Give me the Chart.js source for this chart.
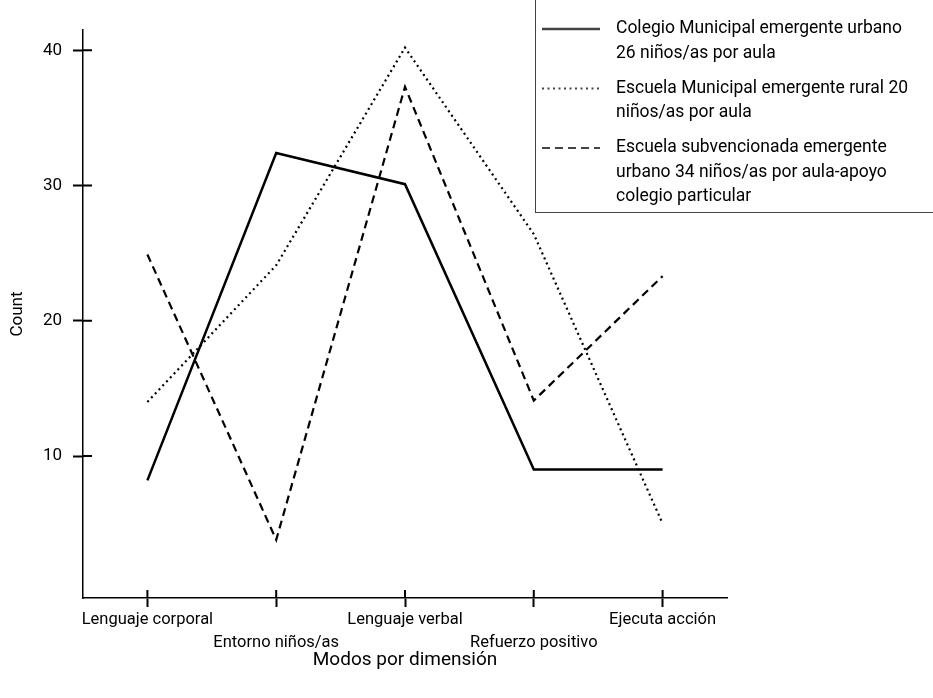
<!DOCTYPE html>
<html>
<head>
<meta charset="utf-8">
<script src="https://cdn.jsdelivr.net/npm/chart.js@4/dist/chart.umd.min.js"></script>
<style>
  body { margin: 0; background: #fff; }
  #wrap { width: 933px; height: 698px; }
</style>
</head>
<body>
<div id="wrap"><canvas id="modosChart" width="933" height="698"></canvas></div>
<script>
const categories = ["Lenguaje corporal", "Entorno niños/as", "Lenguaje verbal", "Refuerzo positivo", "Ejecuta acción"];
const colegioUrbano = [8.2, 32.4, 30.1, 9, 9];
const escuelaRural = [14, 24.1, 40.2, 26.4, 5];
const escuelaSubvencionada = [24.9, 3.8, 37.3, 14.1, 23.3];
const yTicks = [10, 20, 30, 40];
const seriesNames = [
  ["Colegio Municipal emergente urbano", "26 niños/as por aula"],
  ["Escuela Municipal emergente rural 20", "niños/as por aula"],
  ["Escuela subvencionada emergente", "urbano 34 niños/as por aula-apoyo", "colegio particular"]
];

const FONT = "Roboto, 'Noto Sans', sans-serif";

// inner half of the tick marks (Chart.js only draws them outside the axis)
const crossTicks = {
  id: "crossTicks",
  afterDraw(chart) {
    const ctx = chart.ctx;
    const x = chart.scales.x, y = chart.scales.y;
    ctx.save();
    ctx.strokeStyle = "#000";
    ctx.lineWidth = 2;
    ctx.beginPath();
    x.ticks.forEach((t, i) => {
      const px = x.getPixelForTick(i);
      ctx.moveTo(px, y.bottom);
      ctx.lineTo(px, y.bottom - 8);
    });
    y.ticks.forEach((t, i) => {
      const py = y.getPixelForTick(i);
      ctx.moveTo(x.left, py);
      ctx.lineTo(x.left + 9, py);
    });
    ctx.stroke();
    ctx.restore();
  }
};

// boxed legend with wrapped labels
const boxLegend = {
  id: "boxLegend",
  afterDraw(chart) {
    const ctx = chart.ctx;
    ctx.save();
    ctx.strokeStyle = "#444";
    ctx.lineWidth = 1;
    ctx.strokeRect(535.5, -5, 420, 217.5);
    ctx.font = "17.5px " + FONT;
    ctx.fillStyle = "#000";
    ctx.textBaseline = "middle";
    let yPos = 29;
    chart.data.datasets.forEach((ds, i) => {
      ctx.beginPath();
      ctx.setLineDash(ds.borderDash || []);
      ctx.lineWidth = ds.borderWidth;
      ctx.moveTo(542, yPos);
      ctx.lineTo(600, yPos);
      ctx.stroke();
      ctx.setLineDash([]);
      seriesNames[i].forEach((line, j) => {
        ctx.fillText(line, 616, yPos + j * 24.5);
      });
      yPos += (seriesNames[i].length - 1) * 24.5 + 35;
    });
    ctx.restore();
  }
};

const ctx = document.getElementById("modosChart").getContext("2d");
const modosChart = new Chart(ctx, {
  type: "line",
  data: {
    labels: categories,
    datasets: [
      {
        label: seriesNames[0].join(" "),
        data: colegioUrbano,
        borderColor: "#000",
        borderWidth: 2.5,
        borderDash: [],
      },
      {
        label: seriesNames[1].join(" "),
        data: escuelaRural,
        borderColor: "#000",
        borderWidth: 2.2,
        borderDash: [2, 3.5],
      },
      {
        label: seriesNames[2].join(" "),
        data: escuelaSubvencionada,
        borderColor: "#000",
        borderWidth: 2.2,
        borderDash: [8, 5],
      },
    ],
  },
  options: {
    responsive: false,
    animation: false,
    devicePixelRatio: 1,
    layout: { padding: { top: 30, right: 206, left: 0, bottom: 0 } },
    elements: {
      point: { radius: 0 },
      line: { tension: 0, borderCapStyle: "butt" },
    },
    plugins: {
      legend: { display: false },
      tooltip: { enabled: false },
    },
    scales: {
      x: {
        type: "category",
        offset: true,
        afterFit(scale) { scale.height = 100; },
        grid: {
          offset: false,
          drawOnChartArea: false,
          tickLength: 9,
          tickWidth: 2,
          tickColor: "#000",
        },
        border: { display: true, color: "#000", width: 1.5 },
        ticks: {
          autoSkip: false,
          maxRotation: 0,
          padding: 1,
          color: "#000",
          font: { family: FONT, size: 16.5, lineHeight: 1.4 },
          callback(value, index) {
            const l = this.getLabelForValue(value);
            return index % 2 ? ["", l] : l;
          },
        },
        title: {
          display: true,
          text: "Modos por dimensión",
          color: "#000",
          font: { family: FONT, size: 19 },
          padding: { top: 26, bottom: 26 },
        },
      },
      y: {
        min: -0.5,
        max: 41.5,
        afterFit(scale) { scale.width = 83; },
        afterBuildTicks(scale) {
          scale.ticks = yTicks.map((v) => ({ value: v }));
        },
        grid: {
          drawOnChartArea: false,
          tickLength: 10,
          tickWidth: 2,
          tickColor: "#000",
        },
        border: { display: true, color: "#000", width: 1.5 },
        ticks: {
          padding: 11,
          color: "#000",
          font: { family: FONT, size: 17 },
        },
        title: {
          display: true,
          text: "Count",
          color: "#000",
          font: { family: FONT, size: 17 },
          padding: { top: 8, bottom: 0 },
        },
      },
    },
  },
  plugins: [crossTicks, boxLegend],
});
</script>
</body>
</html>
